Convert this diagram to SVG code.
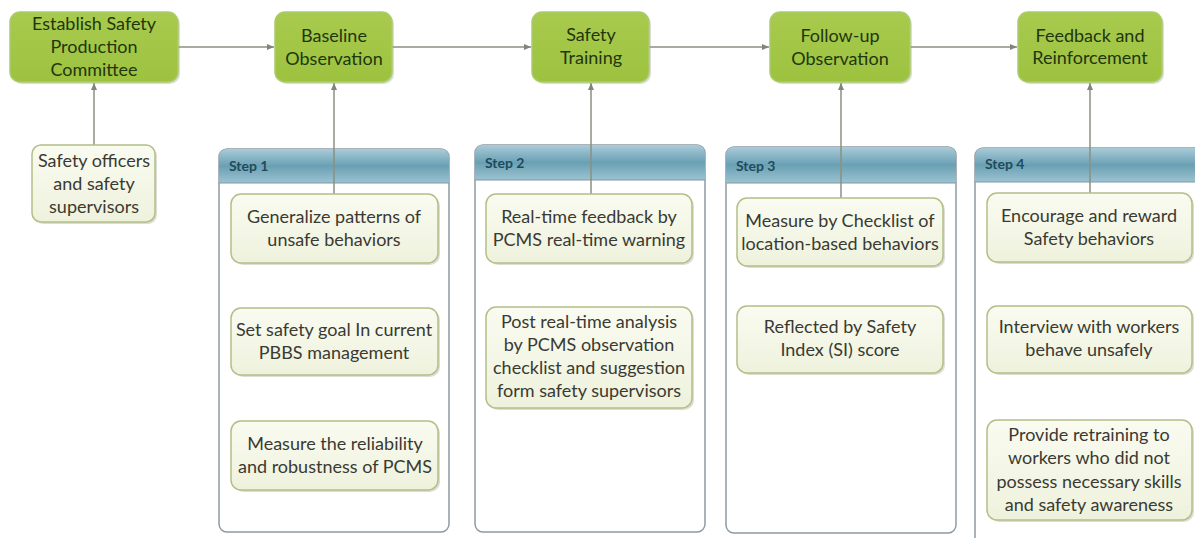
<svg xmlns="http://www.w3.org/2000/svg" width="1195" height="538" viewBox="0 0 1195 538">
<style>
.main{fill:url(#gGreen);stroke:#abcb6c;stroke-width:1.5}
.mt{font-family:Lato,"Open Sans","Liberation Sans",sans-serif;font-size:18px;fill:#22360e;text-anchor:middle}
.sub{fill:url(#gCream);stroke:#b3bf86;stroke-width:1.5}
.st{font-family:Lato,"Open Sans","Liberation Sans",sans-serif;font-size:18px;fill:#3a3a32;text-anchor:middle}
.panel{fill:#ffffff;stroke:#8e9ba3;stroke-width:1.5}
.hdr{fill:url(#gTeal)}
.ht{font-family:Lato,"Open Sans","Liberation Sans",sans-serif;font-size:14px;font-weight:bold;fill:#1f4b5c}
.con{stroke:#8a9080;stroke-width:1.5;fill:none}
.shadow{fill:#9aa08a;opacity:0.35}
</style>
<defs>
<linearGradient id="gGreen" x1="0" y1="0" x2="0" y2="1">
<stop offset="0" stop-color="#a8ca4e"/>
<stop offset="1" stop-color="#9dc23f"/>
</linearGradient>
<linearGradient id="gCream" x1="0" y1="0" x2="0" y2="1">
<stop offset="0" stop-color="#fafbf1"/>
<stop offset="1" stop-color="#eef2dc"/>
</linearGradient>
<linearGradient id="gTeal" x1="0" y1="0" x2="0" y2="1">
<stop offset="0" stop-color="#a9cbd8"/>
<stop offset="0.5" stop-color="#6aa0b4"/>
<stop offset="1" stop-color="#9cc3d1"/>
</linearGradient>
<marker id="arr" markerWidth="8" markerHeight="8" refX="7" refY="4" orient="auto" markerUnits="userSpaceOnUse">
<path d="M0,1 L7,4 L0,7 Z" fill="#7f8577"/>
</marker>
</defs>

<g id="panels">
<g id="step1">
<rect class="panel" x="219" y="149" width="230" height="383" rx="8"/>
<path class="hdr" d="M227,149 H441 A8,8 0 0 1 449,157 V183 H219 V157 A8,8 0 0 1 227,149 Z"/>
<line x1="219" y1="183" x2="449" y2="183" stroke="#7f97a3" stroke-width="1"/>
<text class="ht" x="229" y="171">Step 1</text>
</g>
<g id="step2">
<rect class="panel" x="475" y="145" width="230" height="387" rx="8"/>
<path class="hdr" d="M483,145 H697 A8,8 0 0 1 705,153 V180 H475 V153 A8,8 0 0 1 483,145 Z"/>
<line x1="475" y1="180" x2="705" y2="180" stroke="#7f97a3" stroke-width="1"/>
<text class="ht" x="485" y="168">Step 2</text>
</g>
<g id="step3">
<rect class="panel" x="726" y="147" width="230" height="386" rx="8"/>
<path class="hdr" d="M734,147 H948 A8,8 0 0 1 956,155 V183 H726 V155 A8,8 0 0 1 734,147 Z"/>
<line x1="726" y1="183" x2="956" y2="183" stroke="#7f97a3" stroke-width="1"/>
<text class="ht" x="736" y="171">Step 3</text>
</g>
<g id="step4">
<rect class="panel" x="975" y="148" width="240" height="400" rx="8"/>
<path class="hdr" d="M983,148 H1215 V182 H975 V156 A8,8 0 0 1 983,148 Z"/>
<line x1="975" y1="182" x2="1195" y2="182" stroke="#7f97a3" stroke-width="1"/>
<text class="ht" x="985" y="169">Step 4</text>
</g>
</g>

<g id="connectors">
<line class="con" x1="178" y1="47" x2="274" y2="47" marker-end="url(#arr)"/>
<line class="con" x1="392" y1="47" x2="531" y2="47" marker-end="url(#arr)"/>
<line class="con" x1="649" y1="47" x2="769" y2="47" marker-end="url(#arr)"/>
<line class="con" x1="910" y1="47" x2="1017" y2="47" marker-end="url(#arr)"/>
<line class="con" x1="94" y1="145" x2="94" y2="83" marker-end="url(#arr)"/>
<line class="con" x1="334" y1="194" x2="334" y2="83" marker-end="url(#arr)"/>
<line class="con" x1="591" y1="194" x2="591" y2="83" marker-end="url(#arr)"/>
<line class="con" x1="841" y1="198" x2="841" y2="83" marker-end="url(#arr)"/>
<line class="con" x1="1090" y1="193" x2="1090" y2="83" marker-end="url(#arr)"/>
</g>

<g id="n1">
<rect class="shadow" x="12" y="14" width="168" height="70" rx="10"/>
<rect class="main" x="10" y="12" width="168" height="70" rx="10"/>
<text class="mt" x="94" y="30">Establish Safety</text>
<text class="mt" x="94" y="53">Production</text>
<text class="mt" x="94" y="76">Committee</text>
</g>
<g id="n2">
<rect class="shadow" x="277" y="14" width="117" height="70" rx="10"/>
<rect class="main" x="275" y="12" width="117" height="70" rx="10"/>
<text class="mt" x="334" y="42">Baseline</text>
<text class="mt" x="334" y="65">Observation</text>
</g>
<g id="n3">
<rect class="shadow" x="534" y="14" width="117" height="70" rx="10"/>
<rect class="main" x="532" y="12" width="117" height="70" rx="10"/>
<text class="mt" x="591" y="41">Safety</text>
<text class="mt" x="591" y="64">Training</text>
</g>
<g id="n4">
<rect class="shadow" x="772" y="14" width="140" height="70" rx="10"/>
<rect class="main" x="770" y="12" width="140" height="70" rx="10"/>
<text class="mt" x="840" y="42">Follow-up</text>
<text class="mt" x="840" y="65">Observation</text>
</g>
<g id="n5">
<rect class="shadow" x="1020" y="14" width="144" height="70" rx="10"/>
<rect class="main" x="1018" y="12" width="144" height="70" rx="10"/>
<text class="mt" x="1090" y="42">Feedback and</text>
<text class="mt" x="1090" y="64">Reinforcement</text>
</g>

<g id="officers">
<rect class="shadow" x="34" y="147" width="123" height="77" rx="9"/>
<rect class="sub" x="32" y="145" width="123" height="77" rx="9"/>
<text class="st" x="94" y="167">Safety officers</text>
<text class="st" x="94" y="190">and safety</text>
<text class="st" x="94" y="213">supervisors</text>
</g>

<g id="s1a">
<rect class="shadow" x="233" y="196" width="207" height="69" rx="10"/>
<rect class="sub" x="231" y="194" width="207" height="69" rx="10"/>
<text class="st" x="334" y="223">Generalize patterns of</text>
<text class="st" x="334" y="246">unsafe behaviors</text>
</g>
<g id="s1b">
<rect class="shadow" x="233" y="310" width="207" height="67" rx="10"/>
<rect class="sub" x="231" y="308" width="207" height="67" rx="10"/>
<text class="st" x="334" y="336">Set safety goal In current</text>
<text class="st" x="334" y="359">PBBS management</text>
</g>
<g id="s1c">
<rect class="shadow" x="233" y="423" width="207" height="69" rx="10"/>
<rect class="sub" x="231" y="421" width="207" height="69" rx="10"/>
<text class="st" x="335" y="450">Measure the reliability</text>
<text class="st" x="335" y="473">and robustness of PCMS</text>
</g>

<g id="s2a">
<rect class="shadow" x="488" y="196" width="206" height="69" rx="10"/>
<rect class="sub" x="486" y="194" width="206" height="69" rx="10"/>
<text class="st" x="589" y="223">Real-time feedback by</text>
<text class="st" x="589" y="246">PCMS real-time warning</text>
</g>
<g id="s2b">
<rect class="shadow" x="488" y="309" width="206" height="101" rx="10"/>
<rect class="sub" x="486" y="307" width="206" height="101" rx="10"/>
<text class="st" x="589" y="328">Post real-time analysis</text>
<text class="st" x="589" y="351">by PCMS observation</text>
<text class="st" x="589" y="374">checklist and suggestion</text>
<text class="st" x="589" y="397">form safety supervisors</text>
</g>

<g id="s3a">
<rect class="shadow" x="739" y="200" width="206" height="68" rx="10"/>
<rect class="sub" x="737" y="198" width="206" height="68" rx="10"/>
<text class="st" x="840" y="227">Measure by Checklist of</text>
<text class="st" x="840" y="250">location-based behaviors</text>
</g>
<g id="s3b">
<rect class="shadow" x="739" y="308" width="206" height="67" rx="10"/>
<rect class="sub" x="737" y="306" width="206" height="67" rx="10"/>
<text class="st" x="840" y="333">Reflected by Safety</text>
<text class="st" x="840" y="356">Index (SI) score</text>
</g>

<g id="s4a">
<rect class="shadow" x="989" y="195" width="205" height="69" rx="10"/>
<rect class="sub" x="987" y="193" width="205" height="69" rx="10"/>
<text class="st" x="1089" y="222">Encourage and reward</text>
<text class="st" x="1089" y="245">Safety behaviors</text>
</g>
<g id="s4b">
<rect class="shadow" x="989" y="308" width="205" height="67" rx="10"/>
<rect class="sub" x="987" y="306" width="205" height="67" rx="10"/>
<text class="st" x="1089" y="333">Interview with workers</text>
<text class="st" x="1089" y="356">behave unsafely</text>
</g>
<g id="s4c">
<rect class="shadow" x="989" y="422" width="205" height="100" rx="10"/>
<rect class="sub" x="987" y="420" width="205" height="100" rx="10"/>
<text class="st" x="1089" y="441">Provide retraining to</text>
<text class="st" x="1089" y="464">workers who did not</text>
<text class="st" x="1089" y="488">possess necessary skills</text>
<text class="st" x="1089" y="511">and safety awareness</text>
</g>
</svg>
